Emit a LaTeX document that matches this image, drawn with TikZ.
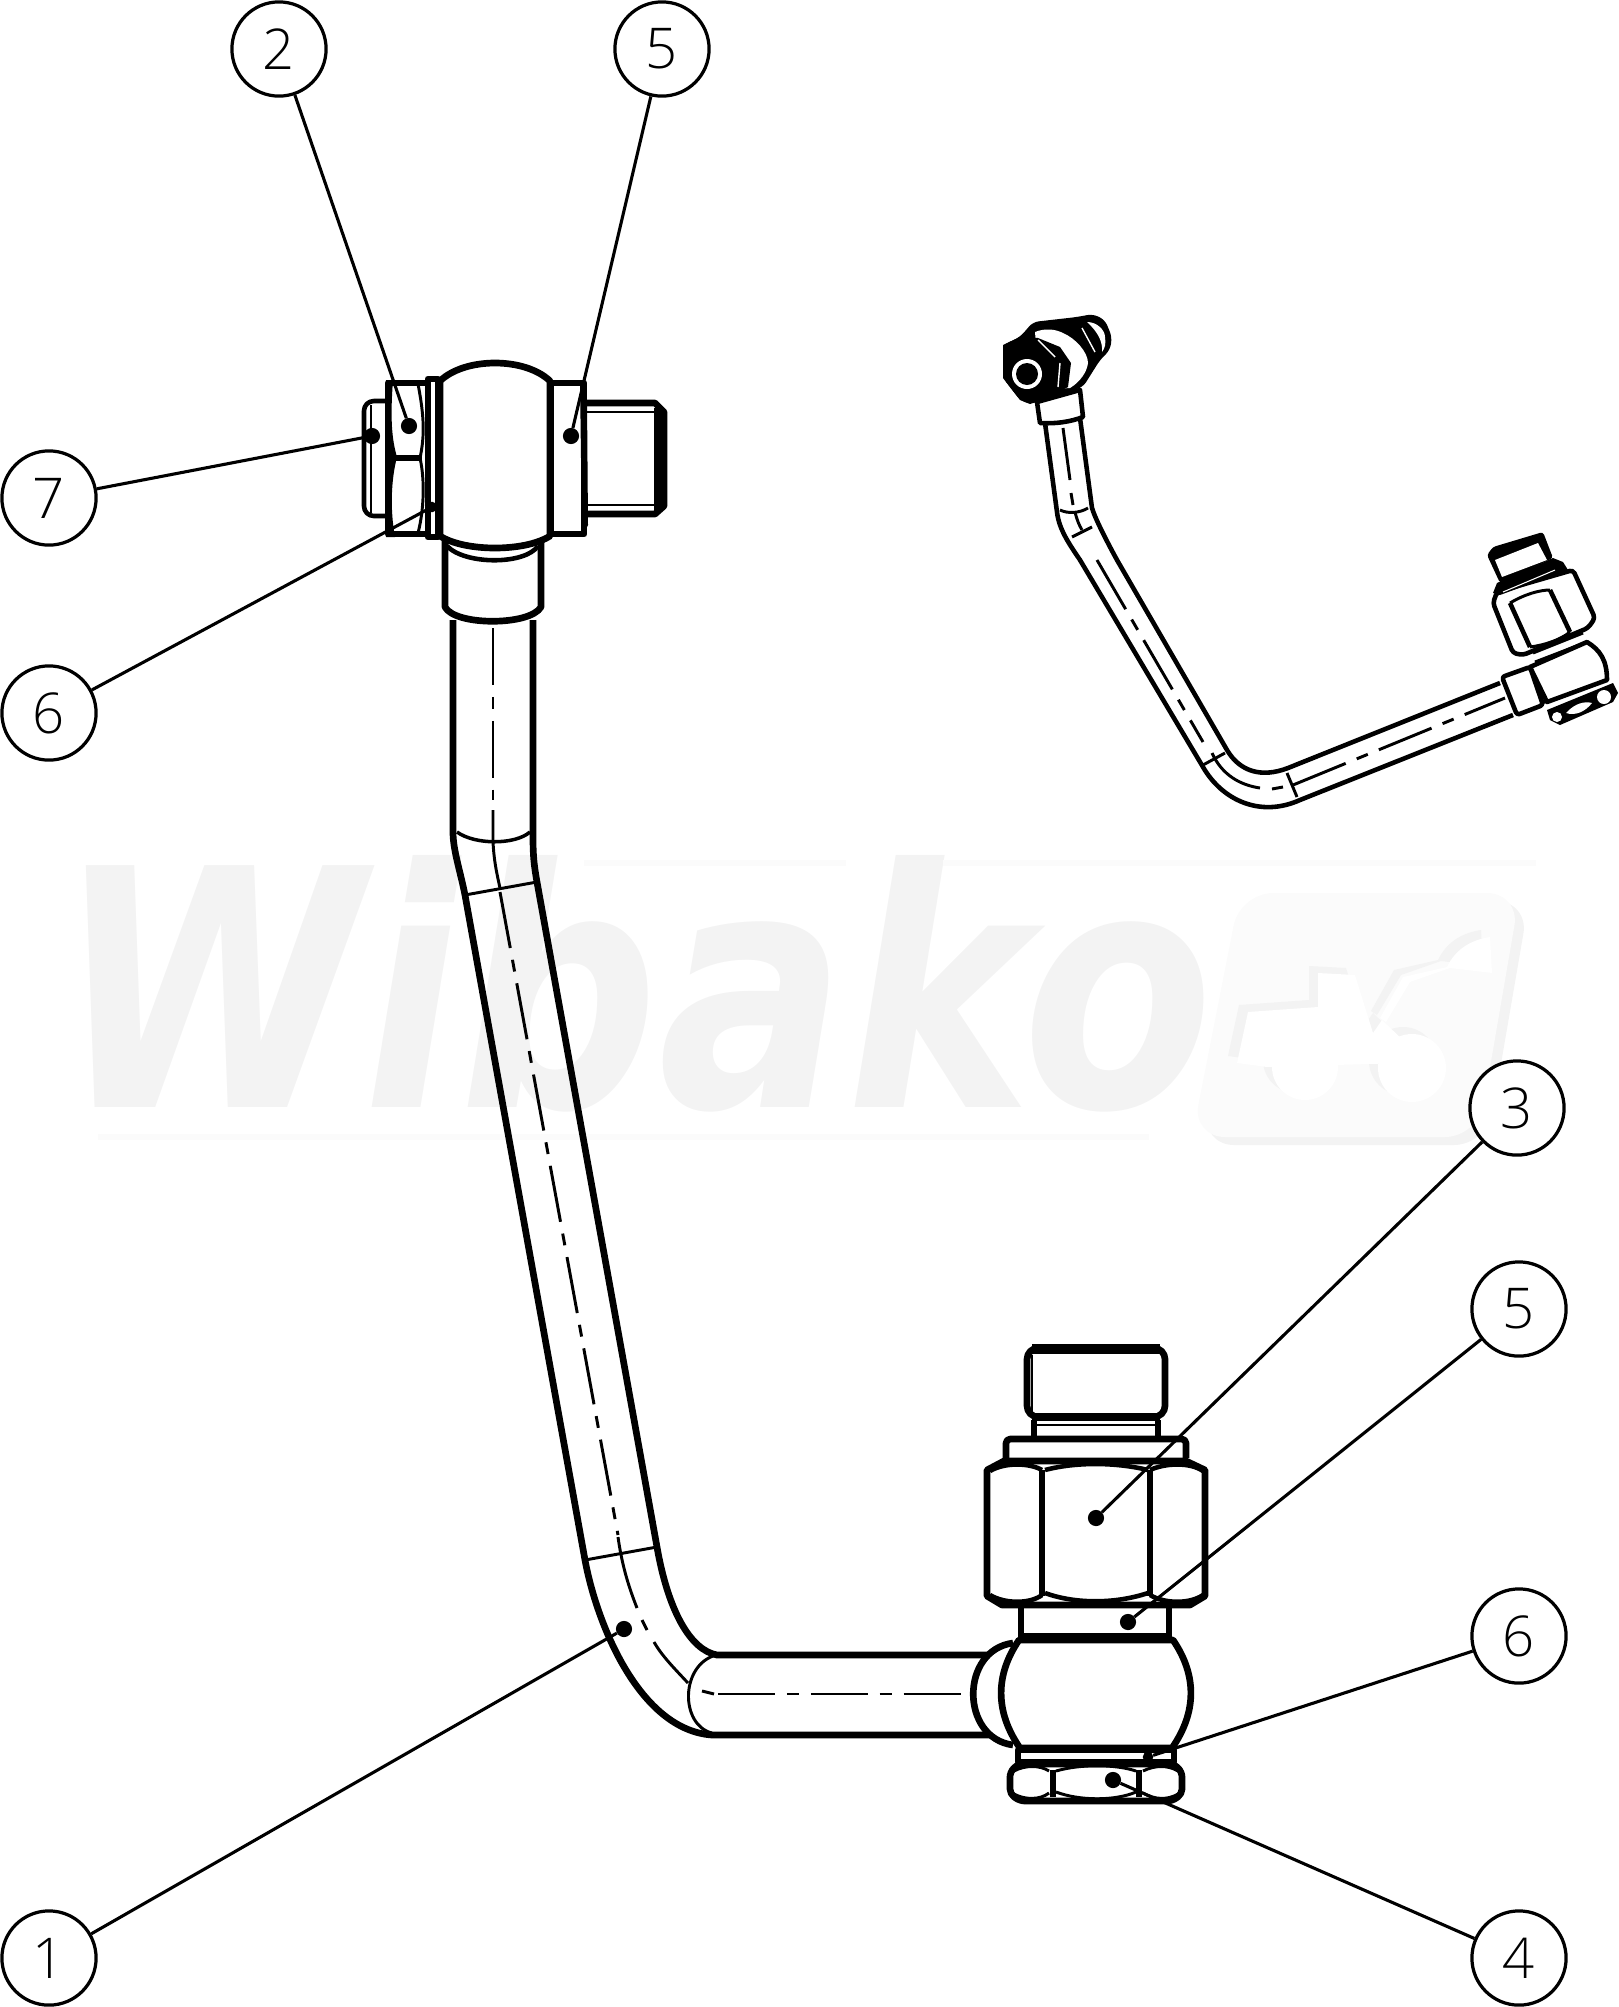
\documentclass[tikz,border=0pt]{standalone}
\usepackage{fontspec}
\newfontfamily\tagfont{Open Sans Light}
\newfontfamily\markfont{DejaVu Sans}
\usepackage{tikz}
\definecolor{markdark}{HTML}{F3F3F3}
\definecolor{marklight}{HTML}{FBFBFB}
\tikzset{
  outl/.style={line width=9.5pt,line join=round},
  outs/.style={line width=6.5pt,line join=round},
  thinl/.style={line width=4.2pt},
  ctrline/.style={line width=4.2pt,dash pattern=on 81pt off 17pt on 17pt off 17pt},
  balloon/.style={circle,draw,fill=white,line width=4.6pt,minimum size=134pt,inner sep=0pt,font=\tagfont\fontsize{80}{80}\selectfont},
  dot/.style={circle,fill=black,minimum size=23pt,inner sep=0pt},
  dotsmall/.style={circle,fill=black,minimum size=15pt,inner sep=0pt},
  leader/.style={line width=4.4pt}
}
\begin{document}
\begin{tikzpicture}[x=0.5mm,y=-0.5mm]
  \useasboundingbox (0,0) rectangle (1619,2007);
  % watermark
  \node[anchor=base west,inner sep=0pt,text=markdark] (mark) at (56,1107) {\scalebox{.84}[1]{\markfont\fontsize{472}{472}\selectfont\bfseries\itshape Wibako}};
  \fill[marklight] (584,860) rectangle (846,866);
  \fill[marklight] (943,860) rectangle (1536,866);
  \fill[marklight] (98,1134) rectangle (1149,1140);
  \fill[markdark,rounded corners=47pt] (1249,901) -- (1529,901) -- (1487,1145) -- (1201,1145) -- cycle;
  \fill[marklight,rounded corners=47pt] (1240,893) -- (1520,893) -- (1478,1137) -- (1192,1137) -- cycle;
  \foreach \tcol/\tx/\ty in {markdark/-9/-7,white/0/0} {
    \begin{scope}[shift={(\tx,\ty)}]
      \fill[\tcol] (1237,1063) -- (1248,1012) -- (1318,1007) -- (1318,973) -- (1355,975) -- (1373,1033) -- (1382,1020) -- (1405,1042) -- (1403,1063) -- (1267,1067) -- cycle;
      \fill[\tcol] (1305,1067) circle (33);
      \fill[\tcol] (1412,1068) circle (34);
      \fill[\tcol] (1403,977) -- (1447,967) .. controls (1455,950) and (1470,940) .. (1490,937) -- (1492,973) -- (1450,968) -- (1410,982) -- (1386,1022) -- (1380,1018) -- cycle;
    \end{scope}
  }
  % large view, tube
  \draw[outl] (453,620) -- (453,832) .. controls (453,850) and (460,870) .. (465,895) -- (585,1560) .. controls (597,1625) and (640,1730) .. (712,1735) -- (990,1735);
  \draw[outl] (533,620) -- (533,832) .. controls (533,850) and (533,860) .. (537,882) -- (657,1547) .. controls (668,1610) and (690,1650) .. (717,1655) -- (990,1655);
  \draw[line width=5pt] (457,832) .. controls (475,845) and (515,845) .. (530,832);
  \draw[thinl] (465,895) -- (537,882);
  \draw[thinl] (585,1560) -- (657,1547);
  \draw[thinl] (716,1655) .. controls (680,1665) and (680,1725) .. (712,1733);
  % centre lines of the tube
  \draw[ctrline] (493,628) -- (493,800);
  \draw[thinl] (493,810) -- (493,842) .. controls (494,860) and (496,870) .. (500,888);
  \draw[ctrline] (500,892) -- (618,1535);
  \draw[thinl] (618,1537) .. controls (622,1565) and (628,1585) .. (637,1608);
  \draw[thinl] (642,1620) -- (647,1630);
  \draw[thinl] (654,1642) .. controls (662,1656) and (674,1668) .. (688,1683);
  \draw[thinl] (702,1691) -- (714,1694);
  \draw[ctrline] (718,1694) -- (965,1694);
  % top fitting
  \draw[outs,rounded corners=14pt] (387,401) -- (364,401) -- (364,516) -- (387,516);
  \draw[thinl] (371,405) -- (371,513);
  \draw[outl] (388,383) rectangle (428,534);
  \fill (386,380) -- (393,380) .. controls (390,420) and (392,440) .. (397,457) .. controls (391,480) and (390,510) .. (395,537) -- (386,537) -- cycle;
  \draw[thinl] (418,384) .. controls (424,415) and (425,435) .. (420,458) .. controls (425,480) and (424,510) .. (418,533);
  \draw[outl] (395,458) -- (422,458);
  \draw[outl] (428,379) rectangle (438,537);
  \draw[outl,fill=white] (440,381) .. controls (465,357) and (525,357) .. (550,381) -- (550,536) .. controls (525,552) and (465,552) .. (440,536) -- cycle;
  \draw[outs] (447,546) .. controls (465,565) and (525,565) .. (538,546);
  \draw[outl] (445,538) -- (445,607) .. controls (455,626) and (530,626) .. (541,607) -- (541,538);
  \draw[outl] (551,383) rectangle (584,534);
  \fill (580,380) -- (587,400) -- (588,525) -- (582,537) -- cycle;
  \draw[outl] (587,403) -- (655,403) -- (664,412) -- (664,506) -- (655,514) -- (587,514);
  \draw[line width=11pt] (658,408) -- (658,510);
  \draw[thinl] (587,412) -- (654,412);
  \draw[thinl] (587,505) -- (654,505);
  % bottom fitting
  \draw[outl,fill=white] (1013,1643) .. controls (960,1650) and (960,1738) .. (1013,1745);
  \draw[outl,fill=white] (1019,1640) .. controls (995,1675) and (995,1712) .. (1020,1748) -- (1172,1748) .. controls (1197,1712) and (1197,1675) .. (1173,1640) -- cycle;
  \draw[outl,fill=white,rounded corners=16pt] (1027,1348) -- (1165,1348) -- (1165,1417) -- (1027,1417) -- cycle;
  \draw[line width=15pt] (1032,1349) -- (1160,1349);
  \draw[line width=12pt] (1032,1417) -- (1160,1417);
  \draw[thinl] (1032,1355) -- (1032,1412);
  \draw[outl] (1034,1420) -- (1034,1438);
  \draw[outl] (1158,1420) -- (1158,1438);
  \draw[thinl] (1034,1425) -- (1158,1425);
  \draw[outl,fill=white,rounded corners=6pt] (1006,1458) -- (1006,1439) -- (1186,1439) -- (1186,1458);
  \draw[outl,fill=white] (987,1470) -- (1004,1461) -- (1186,1461) -- (1205,1470) -- (1205,1596) -- (1190,1605) -- (1002,1605) -- (987,1596) -- cycle;
  \draw[outl] (1042,1470) -- (1042,1596);
  \draw[outl] (1150,1470) -- (1150,1596);
  \draw[outs] (1045,1470) .. controls (1075,1462) and (1115,1462) .. (1148,1470);
  \draw[outs] (1045,1593) .. controls (1075,1604) and (1115,1604) .. (1148,1593);
  \draw[outs] (990,1471) .. controls (1005,1462) and (1030,1463) .. (1042,1470);
  \draw[outs] (990,1595) .. controls (1005,1604) and (1030,1604) .. (1042,1595);
  \draw[outs] (1150,1470) .. controls (1165,1463) and (1190,1462) .. (1203,1471);
  \draw[outs] (1150,1595) .. controls (1165,1604) and (1190,1604) .. (1203,1595);
  \draw[outl] (1021,1607) -- (1021,1638);
  \draw[outl] (1169,1607) -- (1169,1638);
  \draw[line width=13pt] (1018,1638) -- (1172,1638);
  \draw[outl] (1018,1750) rectangle (1174,1762);
  \draw[outl,fill=white,rounded corners=7pt] (1010,1772) -- (1018,1764) -- (1174,1764) -- (1182,1772) -- (1182,1794) -- (1172,1801) -- (1020,1801) -- (1010,1794) -- cycle;
  \draw[outl] (1053,1770) -- (1053,1797);
  \draw[outl] (1139,1770) -- (1139,1797);
  \draw[thinl] (1056,1771) .. controls (1080,1764) and (1115,1764) .. (1136,1771);
  \draw[thinl] (1056,1792) .. controls (1080,1801) and (1115,1801) .. (1136,1792);
  \draw[thinl] (1014,1771) .. controls (1025,1765) and (1040,1765) .. (1049,1771);
  \draw[thinl] (1014,1794) .. controls (1025,1800) and (1040,1800) .. (1049,1793);
  \draw[thinl] (1143,1771) .. controls (1155,1765) and (1168,1765) .. (1178,1771);
  \draw[thinl] (1143,1793) .. controls (1155,1800) and (1168,1800) .. (1178,1794);
  % small view, tube
  \draw[outs] (1045,423) -- (1057,512) .. controls (1059,530) and (1070,545) .. (1080,560) -- (1203,767) .. controls (1222,800) and (1260,818) .. (1300,800) -- (1513,715);
  \draw[outs] (1080,418) -- (1092,508) .. controls (1095,518) and (1105,538) .. (1117,560) -- (1227,750) .. controls (1240,772) and (1262,778) .. (1288,768) -- (1500,683);
  \draw[thinl] (1060,510) .. controls (1068,514) and (1080,513) .. (1088,508);
  \draw[thinl] (1072,537) -- (1092,527);
  \draw[thinl] (1203,765) -- (1225,753);
  \draw[thinl] (1287,773) -- (1297,797);
  \draw[thinl] (1063,428) -- (1070,480);
  \draw[thinl] (1071,493) -- (1073,505);
  \draw[thinl] (1075,512) .. controls (1077,520) and (1079,525) .. (1082,530);
  \draw[ctrline] (1097,560) -- (1203,742);
  \draw[thinl] (1212,753) .. controls (1222,775) and (1240,785) .. (1260,788);
  \draw[thinl] (1272,789) -- (1283,787);
  \draw[ctrline] (1293,785) -- (1505,698);
  % small view, upper fitting
  \fill[rounded corners=8pt] (1003,345) -- (1020,337) -- (1033,322) -- (1077,317) -- (1093,314) -- (1105,320) -- (1112,337) -- (1110,350) -- (1100,360) -- (1083,387) -- (1043,400) -- (1030,404) -- (1020,400) -- (1003,378) -- cycle;
  \fill[white] (1035,332) .. controls (1045,328) and (1055,329) .. (1063,333) .. controls (1075,338) and (1088,352) .. (1088,363) .. controls (1087,372) and (1080,382) .. (1070,388) -- (1040,390) -- cycle;
  \fill[white] (1087,322) .. controls (1097,322) and (1105,330) .. (1105,337) .. controls (1106,344) and (1105,348) .. (1102,352) .. controls (1103,342) and (1098,332) .. cycle;
  \draw[white,line width=2pt] (1082,328) -- (1095,352);
  \fill (1003,345) -- (1020,337) -- (1038,338) -- (1060,347) -- (1071,363) -- (1068,387) -- (1043,400) -- (1030,404) -- (1020,400) -- (1003,378) -- cycle;
  \draw[white,line width=2pt] (1038,340) -- (1055,357);
  \draw[white,line width=2pt] (1060,363) -- (1058,387);
  \fill[white] (1027,374) circle (15);
  \fill (1027,374) circle (11);
  \draw[outs,fill=white] (1037,402) -- (1080,390) -- (1083,417) .. controls (1070,422) and (1055,424) .. (1040,423) -- cycle;
  % small view, lower fitting
  \fill (1547,710) -- (1613,683) -- (1618,693) -- (1613,702) -- (1560,725) -- (1550,720) -- cycle;
  \fill[white] (1557,717) circle (5);
  \fill[white] (1566,713) .. controls (1575,703) and (1585,701) .. (1592,703) .. controls (1585,712) and (1575,716) .. cycle;
  \fill[white] (1604,697) circle (7);
  \draw[outs,fill=white] (1530,667) -- (1587,642) .. controls (1600,650) and (1607,660) .. (1607,680) -- (1547,702) -- cycle;
  \draw[thinl] (1527,668) .. controls (1530,685) and (1535,695) .. (1545,703);
  \draw[outs,fill=white,rounded corners=4pt] (1502,677) -- (1530,667) -- (1543,705) -- (1517,715) -- cycle;
  \draw[thinl] (1533,653) -- (1583,633);
  \draw[thinl] (1535,662) -- (1587,642);
  \draw[outs,fill=white,rounded corners=5pt] (1493,603) -- (1497,592) -- (1573,570) -- (1595,618) -- (1588,628) -- (1523,655) -- (1513,653) -- cycle;
  \draw[outs] (1510,603) -- (1530,647);
  \draw[outs] (1550,590) -- (1570,632);
  \draw[thinl] (1510,603) .. controls (1525,594) and (1540,590) .. (1550,590);
  \draw[thinl] (1530,647) .. controls (1545,645) and (1560,640) .. (1570,632);
  \fill (1493,593) -- (1497,583) -- (1553,558) -- (1563,562) -- (1568,570) -- (1500,595) -- cycle;
  \draw[white,line width=1.5pt] (1503,592) -- (1555,570);
  \fill[rounded corners=4pt] (1487,555) -- (1493,547) -- (1543,532) -- (1553,558) -- (1500,583) -- cycle;
  \fill[white] (1495,560) -- (1538,543) -- (1547,560) -- (1502,577) -- cycle;
  % balloons and leaders
  \node[balloon] (b2) at (279,49) {2};
  \node[balloon] (b5a) at (662,49) {5};
  \node[balloon] (b7) at (49,498) {7};
  \node[balloon] (b6a) at (49,713) {6};
  \node[balloon] (b3) at (1517,1108) {3};
  \node[balloon] (b5b) at (1519,1309) {5};
  \node[balloon] (b6b) at (1519,1636) {6};
  \node[balloon] (b4) at (1519,1958) {4};
  \node[balloon] (b1) at (49,1958) {1};
  \node[dot] (d2) at (409,426) {};
  \node[dot] (d5a) at (571,436) {};
  \node[dot] (d7) at (372,436) {};
  \node[dotsmall] (d6a) at (432,507) {};
  \node[dot] (d3) at (1096,1518) {};
  \node[dot] (d5b) at (1128,1622) {};
  \node[dotsmall] (d6b) at (1148,1757) {};
  \node[dot] (d4) at (1113,1780) {};
  \node[dot] (d1) at (624,1629) {};
  \draw[leader] (b2)--(d2);
  \draw[leader] (b5a)--(d5a);
  \draw[leader] (b7)--(d7);
  \draw[leader] (b6a)--(d6a);
  \draw[leader] (b3)--(d3);
  \draw[leader] (b5b)--(d5b);
  \draw[leader] (b6b)--(d6b);
  \draw[leader] (b4)--(d4);
  \draw[leader] (b1)--(d1);
\end{tikzpicture}
\end{document}
